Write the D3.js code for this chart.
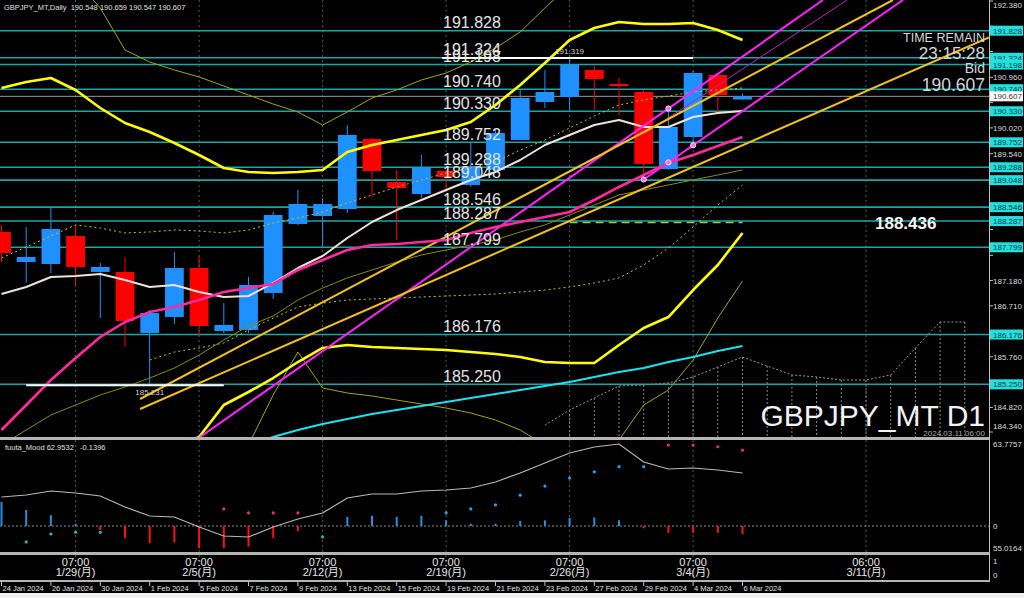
<!DOCTYPE html>
<html><head><meta charset="utf-8">
<script src="https://cdn.jsdelivr.net/npm/d3@7"></script>
<style>body{margin:0;background:#000;overflow:hidden}svg{display:block}</style>
</head><body><svg id="c" width="1024" height="598"></svg>
<script>
// ---------------- DATA ----------------
const dates = ["2024-01-24","2024-01-25","2024-01-26","2024-01-29","2024-01-30","2024-01-31","2024-02-01","2024-02-02","2024-02-05","2024-02-06","2024-02-07","2024-02-08","2024-02-09","2024-02-12","2024-02-13","2024-02-14","2024-02-15","2024-02-16","2024-02-19","2024-02-20","2024-02-21","2024-02-22","2024-02-23","2024-02-26","2024-02-27","2024-02-28","2024-02-29","2024-03-01","2024-03-04","2024-03-05","2024-03-06"];
const open  = [188.084,187.526,187.488,188.009,187.340,187.340,186.205,186.503,187.414,186.242,186.261,186.949,188.232,188.381,188.511,189.814,189.014,188.790,189.218,188.958,189.237,189.795,190.502,190.595,191.097,190.837,190.688,189.255,189.851,191.004,190.548];
const high  = [188.214,188.177,188.549,188.214,187.507,187.619,186.633,187.712,187.637,186.763,187.247,188.456,188.865,188.716,190.074,189.832,189.237,189.516,189.237,189.739,189.980,190.725,191.097,191.319,191.171,190.948,190.725,190.409,191.080,191.004,190.659];
const low   = [187.526,187.135,187.321,187.079,186.484,185.944,185.231,186.372,186.168,186.205,186.205,186.837,188.214,187.805,188.437,188.735,187.935,188.716,188.865,188.921,189.180,189.795,190.390,190.353,190.353,190.260,189.014,189.237,189.665,190.316,190.547];
const close = [187.693,187.619,188.139,187.433,187.433,186.428,186.577,187.414,186.335,186.354,187.098,188.400,188.604,188.604,189.888,189.218,188.902,189.274,189.107,189.311,189.925,190.576,190.688,191.190,190.930,190.799,189.349,190.037,191.041,190.630,190.607];

const bbUpper = [190.762,190.874,190.948,190.725,190.390,190.111,189.944,189.739,189.516,189.274,189.200,189.181,189.200,189.237,189.572,189.702,189.795,189.888,189.981,190.130,190.446,190.818,191.227,191.655,191.878,191.990,191.953,191.953,191.971,191.841,191.655];
const bbLower = [182.9,183.0,183.2,183.4,183.6,183.8,183.95,184.1,184.270,184.865,185.107,185.367,185.665,185.926,185.982,185.944,185.926,185.907,185.888,185.851,185.814,185.758,185.665,185.646,185.646,185.982,186.298,186.502,187.004,187.470,188.065];
const maWhite = [186.930,187.060,187.246,187.265,187.302,187.191,187.060,187.097,186.967,186.874,186.893,187.135,187.414,187.637,187.972,188.269,188.492,188.679,188.865,189.051,189.200,189.423,189.702,189.888,190.074,190.167,190.037,190.037,190.223,190.297,190.334];
const maPink  = [184.400,184.865,185.331,185.740,186.130,186.409,186.595,186.688,186.818,186.967,187.041,187.116,187.377,187.562,187.749,187.842,187.860,187.897,187.935,188.065,188.177,188.269,188.362,188.455,188.679,188.921,189.144,189.367,189.516,189.683,189.851];
const maCyan  = [null,null,null,null,null,null,null,null,null,null,184.121,184.270,184.400,184.512,184.605,184.698,184.772,184.847,184.921,184.996,185.070,185.144,185.219,185.293,185.386,185.479,185.553,185.665,185.758,185.870,185.963];
const band3Upper = [193.143,193.050,192.957,192.771,192.250,191.469,191.246,191.097,190.967,190.799,190.632,190.464,190.316,190.074,190.316,190.576,190.725,190.911,191.041,191.246,191.506,191.804,192.250,192.678,192.864,192.957,192.864,192.771,192.771,192.678,192.585];
const band3Lower = [182.0,182.2,182.4,182.6,182.8,183.0,183.2,183.4,183.6,183.9,184.121,185.051,185.851,185.181,185.089,185.033,184.958,184.884,184.809,184.716,184.586,184.400,184.121,183.842,183.935,184.214,184.865,185.144,185.702,186.484,187.172];
const dotUpper = [187.600,187.804,188.009,188.214,188.158,188.065,188.084,188.121,188.102,188.065,188.121,188.251,188.344,188.455,188.623,188.772,188.921,189.051,189.181,189.274,189.386,189.609,189.795,190.018,190.241,190.446,190.539,190.613,190.688,190.725,190.762];
const dotLower = [null,null,null,null,null,null,185.702,185.851,185.926,186.019,186.260,186.484,186.688,186.762,186.818,186.837,186.856,186.874,186.893,186.911,186.930,186.967,187.004,187.060,187.135,187.228,187.470,187.786,188.177,188.585,188.958];
const oliveMid = [184.121,184.400,184.679,184.865,185.051,185.200,185.367,185.553,185.795,186.074,186.335,186.521,186.818,187.041,187.228,187.377,187.525,187.656,187.749,187.842,187.935,188.084,188.214,188.400,188.585,188.772,188.865,188.958,189.051,189.144,189.237];

// projected dotted outline (future area)
const projIdx = [22,23,24,25,26,27,28,29,30,31,32,33,34,35,36,37,38,39];
const projVal = [184.49,184.772,184.996,185.219,185.237,185.275,185.386,185.573,185.758,185.591,185.424,185.386,185.331,185.331,185.424,185.926,186.409,186.409];

// straight trend lines (bar index, price)
const trendColor = ["#ff22ff","#c020c0","#ff22ff","#f2c21b","#f2c21b"];
const trendWidth = [2,1,2,2,2];
const trendX0 = [8.04,26.01,25.97,5.61,5.61];
const trendP0 = [184.270,189.906,189.051,184.977,184.791];
const trendX1 = [33.26,34.23,36.50,36.09,39.98];
const trendP1 = [192.399,192.399,192.399,192.399,191.705];
const markerLine = [2,2,2,0];
const markerIdx = [26,27,28,27];

// horizontal price levels
const levels = [191.828,191.324,191.198,190.740,190.330,189.752,189.288,189.048,188.546,188.287,187.799,186.176,185.250];
const bid = 190.607;
const priceTicks = [192.380,191.910,191.440,190.960,190.490,190.020,189.540,189.070,188.600,188.130,187.650,187.180,186.710,186.240,185.760,185.290,184.820,184.340];

// indicator sub-window
const mood = [59.357,59.515,59.830,59.672,59.436,58.567,57.857,57.778,56.989,56.279,56.200,56.989,57.620,58.094,59.278,59.593,59.593,59.830,59.909,60.067,60.540,61.250,62.040,62.829,63.302,63.539,62.119,61.566,61.645,61.487,61.250];
const hist = [0.42,0.28,0.19,0.04,-0.07,-0.21,-0.30,-0.29,-0.39,-0.39,-0.36,-0.21,-0.09,0.0,0.16,0.18,0.16,0.18,0.10,0.04,0.04,0.09,0.10,0.14,0.15,0.10,-0.04,-0.12,-0.12,-0.12,-0.14];
const cyanDots = [null,-0.28,-0.14,-0.11,-0.11,null,null,null,null,null,null,null,null,-0.19,null,null,null,null,null,null,null,null,null,null,null,null,null,null,null,null,null];
const pinkDots = [null,null,null,null,null,null,null,null,null,0.30,0.23,0.23,0.23,null,null,null,null,null,null,null,null,null,null,null,null,null,null,1.42,1.42,1.39,1.33];
const blueDots = [null,null,null,null,null,null,null,null,null,null,null,null,null,null,null,null,null,null,0.23,0.30,0.37,0.54,0.70,0.84,0.95,1.04,1.04,null,null,null,null];

// time axis
const mondayIdx = [3,8,13,18,23,28,35];
const mondayTime = ["07:00","07:00","07:00","07:00","07:00","07:00","06:00"];
const mondayDate = ["1/29(月)","2/5(月)","2/12(月)","2/19(月)","2/26(月)","3/4(月)","3/11(月)"];
const dateTickIdx = [0,2,4,6,8,10,12,14,16,18,20,22,24,26,28,30];
const dateTickLbl = ["24 Jan 2024","26 Jan 2024","30 Jan 2024","1 Feb 2024","5 Feb 2024","7 Feb 2024","9 Feb 2024","13 Feb 2024","15 Feb 2024","19 Feb 2024","21 Feb 2024","23 Feb 2024","27 Feb 2024","29 Feb 2024","4 Mar 2024","6 Mar 2024"];

// ---------------- DRAW ----------------
const W = 989;
const svg = d3.select('#c');
const F = '"Liberation Sans", Arial, "Noto Sans CJK JP", sans-serif';
svg.append('rect').attr('width',1024).attr('height',598).attr('fill','#000');
svg.append('rect').attr('x',0).attr('y',593).attr('width',1024).attr('height',5).attr('fill','#efefef');

const x = d3.scaleLinear().domain([0,30]).range([1.5,742.5]);
const y = d3.scaleLinear().domain([184.270,192.399]).range([437,0]);
const yMood = d3.scaleLinear().domain([55.0164,63.7757]).range([552,441]);
const yHist = d3.scaleLinear().domain([-0.45,1.5]).range([551.65,440.5]);
const step = x(1)-x(0);

const defs = svg.append('defs');
defs.append('clipPath').attr('id','cm').append('rect').attr('x',0).attr('y',0).attr('width',W).attr('height',437);
defs.append('clipPath').attr('id','cs').append('rect').attr('x',0).attr('y',440).attr('width',W).attr('height',112);

// monday grid
svg.append('g').selectAll('line').data(mondayIdx).join('line')
  .attr('x1',d=>x(d)).attr('x2',d=>x(d)).attr('y1',0).attr('y2',580)
  .attr('stroke','#5a5a5a').attr('stroke-dasharray','2,3');

const gm = svg.append('g').attr('clip-path','url(#cm)');

// projected dotted outline
const proj = projIdx.map((d,i)=>[d,projVal[i]]);
gm.append('path').datum(proj).attr('fill','none').attr('stroke','#9a9a9a').attr('stroke-dasharray','2,2')
  .attr('d', d3.line().x(d=>x(d[0])).y(d=>y(d[1])));
gm.append('g').selectAll('line').data(proj.slice(1)).join('line')
  .attr('x1',d=>x(d[0])).attr('x2',d=>x(d[0])).attr('y1',d=>y(d[1])).attr('y2',437)
  .attr('stroke','#8a8a8a').attr('stroke-dasharray','2,2');

// level lines
gm.append('g').selectAll('line').data(levels).join('line')
  .attr('x1',0).attr('x2',W).attr('y1',d=>y(d)).attr('y2',d=>y(d))
  .attr('stroke','#1aa6a6').attr('stroke-width',1.6);
gm.append('line').attr('x1',0).attr('x2',W).attr('y1',y(bid)).attr('y2',y(bid)).attr('stroke','#9a9a9a').attr('stroke-width',1);

// candles
const cg = gm.append('g');
dates.forEach((d,i)=>{
  const col = close[i]>=open[i] ? '#1e90ff' : '#ff0000';
  cg.append('line').attr('x1',x(i)).attr('x2',x(i)).attr('y1',y(high[i])).attr('y2',y(low[i])).attr('stroke',col).attr('stroke-width',1);
  const top = y(Math.max(open[i],close[i])), bot = y(Math.min(open[i],close[i]));
  cg.append('rect').attr('x',x(i)-step*0.38).attr('width',step*0.76).attr('y',top).attr('height',Math.max(2,bot-top)).attr('fill',col);
});

// curves
const line = d3.line().defined(d=>d[1]!=null).x(d=>x(d[0])).y(d=>y(d[1]));
function curve(arr,col,w,dash){
  gm.append('path').datum(arr.map((v,i)=>[i,v])).attr('fill','none').attr('stroke',col).attr('stroke-width',w)
    .attr('stroke-dasharray',dash||null).attr('stroke-linejoin','round').attr('d',line);
}
curve(band3Upper,'#a6a600',1);
curve(band3Lower,'#a6a600',1);
curve(oliveMid,'#8c8c00',1);
curve(dotUpper,'#c8c800',1,'2,3');
curve(dotLower,'#c8c800',1,'2,3');
curve(maCyan,'#19e3ee',2);
curve(maWhite,'#efe2d6',2);
curve(bbUpper,'#ffff00',2.6);
curve(bbLower,'#ffff00',2.6);

// trend lines
trendX0.forEach((d,i)=>{
  gm.append('line').attr('x1',x(d)).attr('y1',y(trendP0[i])).attr('x2',x(trendX1[i])).attr('y2',y(trendP1[i]))
    .attr('stroke',trendColor[i]).attr('stroke-width',trendWidth[i]);
});
curve(maPink,'#ff2a9d',2.6);
// dashed horizontal
gm.append('line').attr('x1',x(23)).attr('x2',x(30)).attr('y1',y(188.262)).attr('y2',y(188.262))
  .attr('stroke','#9acd32').attr('stroke-width',1.5).attr('stroke-dasharray','8,5');
// markers
markerIdx.forEach((m,k)=>{
  const j = markerLine[k];
  const p = trendP0[j] + (m-trendX0[j])*(trendP1[j]-trendP0[j])/(trendX1[j]-trendX0[j]);
  gm.append('circle').attr('cx',x(m)).attr('cy',y(p)).attr('r',2.6).attr('fill','#ff66ff').attr('stroke','#fff').attr('stroke-width',0.8);
});
// high / low lines
gm.append('line').attr('x1',x(18)-4).attr('x2',x(28)).attr('y1',y(191.319)).attr('y2',y(191.319)).attr('stroke','#fff').attr('stroke-width',2);
gm.append('line').attr('x1',x(1)).attr('x2',x(9)).attr('y1',y(185.231)).attr('y2',y(185.231)).attr('stroke','#fff').attr('stroke-width',2);
svg.append('text').attr('x',x(23)).attr('y',y(191.319)-4).attr('text-anchor','middle').attr('font-family',F).attr('font-size',8).attr('fill','#cfcfcf').text('191.319');
svg.append('text').attr('x',x(6)).attr('y',y(185.231)+10).attr('text-anchor','middle').attr('font-family',F).attr('font-size',8).attr('fill','#cfcfcf').text('185.231');

// level labels
svg.append('g').selectAll('text').data(levels).join('text')
  .attr('x',443).attr('y',d=>y(d)-2.5).attr('font-family',F).attr('font-size',16).attr('fill','#e4e4e4')
  .text(d=>d3.format('.3f')(d));
svg.append('text').attr('x',875).attr('y',y(188.287)+8).attr('font-family',F).attr('font-size',17).attr('font-weight','bold').attr('fill','#f4f4f4').text('188.436');

// header & info texts
svg.append('text').attr('x',4).attr('y',10).attr('font-family',F).attr('font-size',7.5).attr('fill','#e0e0e0')
  .attr('xml:space','preserve').text('GBPJPY_MT,Daily  190.548 190.659 190.547 190.607');
const info = [['TIME REMAIN',42,12.5],['23:15:28',59,17],['Bid',73,14],['190.607',91,17.5]];
svg.append('g').selectAll('text').data(info).join('text').attr('x',985).attr('y',d=>d[1]).attr('text-anchor','end')
  .attr('font-family',F).attr('font-size',d=>d[2]).attr('fill','#d6d6d6').text(d=>d[0]);
svg.append('text').attr('x',985).attr('y',436).attr('text-anchor','end').attr('font-family',F).attr('font-size',8).attr('fill','#aaa').text('2024.03.11 06:00');
svg.append('text').attr('x',985).attr('y',426).attr('text-anchor','end').attr('font-family',F).attr('font-size',30).attr('fill','#f2f2f2').text('GBPJPY_MT D1');

// ---------- sub window ----------
const gs = svg.append('g').attr('clip-path','url(#cs)');
gs.append('line').attr('x1',0).attr('x2',W).attr('y1',yHist(0)).attr('y2',yHist(0)).attr('stroke','#8a8a8a').attr('stroke-dasharray','2,2');
gs.append('g').selectAll('line').data(hist).join('line')
  .attr('x1',(d,i)=>x(i)).attr('x2',(d,i)=>x(i)).attr('y1',yHist(0)).attr('y2',d=>yHist(d))
  .attr('stroke',d=>d>=0?'#2a8fe0':'#ff1010').attr('stroke-width',2);
gs.append('path').datum(mood.map((v,i)=>[i,v])).attr('fill','none').attr('stroke','#b8b8b8').attr('stroke-width',1.2)
  .attr('d',d3.line().x(d=>x(d[0])).y(d=>yMood(d[1])));
function dots(arr,col){
  gs.append('g').selectAll('circle').data(arr.map((v,i)=>[i,v]).filter(d=>d[1]!=null)).join('circle')
    .attr('cx',d=>x(d[0])).attr('cy',d=>yHist(d[1])).attr('r',1.6).attr('fill',col);
}
dots(cyanDots,'#1fb8c8'); dots(pinkDots,'#e0307a'); dots(blueDots,'#2a9df4');
svg.append('text').attr('x',5).attr('y',450).attr('font-family',F).attr('font-size',7.5).attr('fill','#e0e0e0')
  .attr('xml:space','preserve').text('fuuta_Mood 62.9532   -0.1396');

// separators & axis frame
svg.append('rect').attr('x',0).attr('y',437).attr('width',W).attr('height',3).attr('fill','#b4b4b4');
svg.append('rect').attr('x',0).attr('y',552).attr('width',W).attr('height',3).attr('fill','#b4b4b4');
svg.append('rect').attr('x',0).attr('y',580).attr('width',W).attr('height',2).attr('fill','#b4b4b4');
svg.append('line').attr('x1',W+0.5).attr('x2',W+0.5).attr('y1',0).attr('y2',582).attr('stroke','#c0c0c0');

// mini panel monday labels
const mg = svg.append('g').selectAll('g').data(mondayIdx).join('g');
mg.append('text').attr('x',d=>x(d)).attr('y',566).attr('text-anchor','middle').attr('font-family',F).attr('font-size',11).attr('fill','#e6e6e6').text((d,i)=>mondayTime[i]);
mg.append('text').attr('x',d=>x(d)).attr('y',576).attr('text-anchor','middle').attr('font-family',F).attr('font-size',11).attr('fill','#e6e6e6').text((d,i)=>mondayDate[i]);

// bottom date axis
const dg = svg.append('g').selectAll('g').data(dateTickIdx).join('g');
dg.append('line').attr('x1',d=>x(d)).attr('x2',d=>x(d)).attr('y1',582).attr('y2',586).attr('stroke','#c0c0c0');
dg.append('text').attr('x',d=>x(d)+1).attr('y',591).attr('font-family',F).attr('font-size',7.5).attr('fill','#e0e0e0').text((d,i)=>dateTickLbl[i]);

// right price axis (tick labels hidden under level boxes are skipped)
const boxYs = levels.concat([bid]).map(v=>y(v));
const visTicks = priceTicks.filter(t=>boxYs.every(b=>Math.abs(b-y(t))>9));
const rg = svg.append('g');
rg.selectAll('line').data(priceTicks).join('line').attr('x1',W).attr('x2',W+4)
  .attr('y1',d=>Math.min(y(d),432)).attr('y2',d=>Math.min(y(d),432)).attr('stroke','#c0c0c0');
rg.selectAll('text').data(visTicks).join('text').attr('x',993).attr('y',d=>Math.min(Math.max(y(d),5),426)+3)
  .attr('font-family',F).attr('font-size',8).attr('fill','#dcdcdc').text(d=>d3.format('.3f')(d));
const bx = svg.append('g').selectAll('g').data(levels).join('g');
bx.append('rect').attr('x',990).attr('y',d=>y(d)-5).attr('width',33).attr('height',10).attr('fill','#22e0e0');
bx.append('text').attr('x',993).attr('y',d=>y(d)+3).attr('font-family',F).attr('font-size',8).attr('fill','#0a3a3a').text(d=>d3.format('.3f')(d));
svg.append('rect').attr('x',990).attr('y',y(bid)-5).attr('width',33).attr('height',10).attr('fill','#ffffff');
svg.append('text').attr('x',993).attr('y',y(bid)+3).attr('font-family',F).attr('font-size',8).attr('fill','#333').text(d3.format('.3f')(bid));

// sub-window axis labels
const sl = [['63.7757',447],['0',yHist(0)+3],['55.0164',551],['1',564],['0',578]];
svg.append('g').selectAll('text').data(sl).join('text').attr('x',993).attr('y',d=>d[1])
  .attr('font-family',F).attr('font-size',8).attr('fill','#dcdcdc').text(d=>d[0]);
</script></body></html>
